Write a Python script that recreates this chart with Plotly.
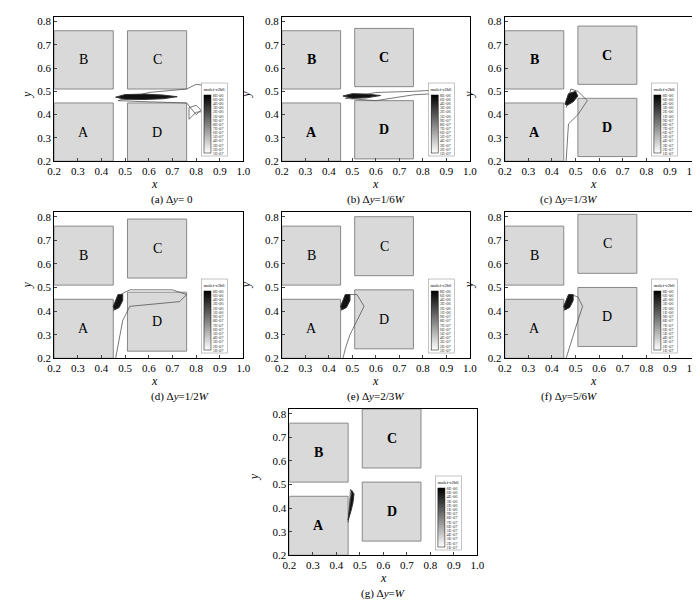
import plotly.graph_objects as go

# building footprints (x0, x1, y0, y1) before shift
bld_names = ["A", "B", "C", "D"]
bld_x0 = [0.2, 0.2, 0.51, 0.51]
bld_x1 = [0.45, 0.45, 0.76, 0.76]
bld_y0 = [0.2, 0.51, 0.51, 0.2]
bld_y1 = [0.45, 0.76, 0.76, 0.45]
shift = [0.0, 0.01, 0.02, 0.03, 0.04, 0.05, 0.06]   # C and D shifted up
captions = ["(a) Δ<i>y</i>= 0", "(b) Δ<i>y</i>=1/6<i>W</i>", "(c) Δ<i>y</i>=1/3<i>W</i>",
            "(d) Δ<i>y</i>=1/2<i>W</i>", "(e) Δ<i>y</i>=2/3<i>W</i>", "(f) Δ<i>y</i>=5/6<i>W</i>",
            "(g) Δ<i>y</i>=<i>W</i>"]
bold = [False, True, True, False, False, False, True]

# plume cores (dark)
core_x = [
    [0.46, 0.50, 0.58, 0.66, 0.72, 0.66, 0.58, 0.50, 0.46],
    [0.46, 0.50, 0.56, 0.62, 0.56, 0.50, 0.46],
    [0.455, 0.47, 0.50, 0.51, 0.49, 0.465, 0.455],
    [0.45, 0.47, 0.49, 0.49, 0.475, 0.455, 0.45],
    [0.45, 0.47, 0.49, 0.49, 0.475, 0.455, 0.45],
    [0.45, 0.47, 0.49, 0.49, 0.475, 0.455, 0.45],
    [0.45, 0.465, 0.475, 0.47, 0.46, 0.452, 0.45],
]
core_y = [
    [0.475, 0.486, 0.488, 0.484, 0.477, 0.468, 0.465, 0.466, 0.475],
    [0.48, 0.49, 0.488, 0.482, 0.472, 0.47, 0.48],
    [0.445, 0.49, 0.50, 0.48, 0.455, 0.44, 0.445],
    [0.42, 0.47, 0.47, 0.445, 0.415, 0.405, 0.42],
    [0.42, 0.47, 0.47, 0.445, 0.415, 0.405, 0.42],
    [0.42, 0.47, 0.47, 0.445, 0.415, 0.405, 0.42],
    [0.35, 0.475, 0.46, 0.42, 0.38, 0.35, 0.35],
]
# outer contour lines
outer_x = [
    [0.47, 0.6, 0.76, 0.8, 0.88, 0.9, 0.88, 0.8, 0.77, 0.77, 0.8, 0.82, 0.8, 0.76, 0.6, 0.47],
    [0.47, 0.6, 0.76, 0.85, 0.9, 0.85, 0.76, 0.6, 0.47],
    [0.46, 0.48, 0.51, 0.55, 0.51, 0.47, 0.46],
    [0.45, 0.48, 0.52, 0.70, 0.76, 0.73, 0.52, 0.49, 0.46],
    [0.45, 0.48, 0.52, 0.55, 0.52, 0.49, 0.47, 0.46],
    [0.45, 0.48, 0.51, 0.53, 0.51, 0.49, 0.47, 0.46],
    [0.45, 0.46, 0.47, 0.46, 0.45],
]
outer_y = [
    [0.46, 0.495, 0.51, 0.53, 0.52, 0.47, 0.42, 0.41, 0.38, 0.43, 0.44, 0.42, 0.4, 0.45, 0.455, 0.46],
    [0.47, 0.495, 0.50, 0.505, 0.5, 0.49, 0.485, 0.46, 0.47],
    [0.43, 0.51, 0.50, 0.46, 0.40, 0.36, 0.2],
    [0.40, 0.47, 0.49, 0.49, 0.47, 0.44, 0.42, 0.36, 0.2],
    [0.40, 0.47, 0.47, 0.42, 0.36, 0.3, 0.24, 0.2],
    [0.40, 0.47, 0.46, 0.42, 0.36, 0.3, 0.24, 0.2],
    [0.34, 0.48, 0.46, 0.40, 0.34],
]

cb_ticks = ["1E-07", "2E-07", "3E-07", "4E-07", "5E-07", "6E-07", "7E-07", "8E-07",
            "9E-07", "1E-06", "2E-06", "3E-06", "4E-06", "6E-06", "8E-06"]

# panel placement in paper coords: (x0, x1, y0, y1)
panels = [
    (0.057, 0.333, 0.745, 0.987), (0.389, 0.663, 0.745, 0.987), (0.714, 0.989, 0.745, 0.987),
    (0.057, 0.333, 0.415, 0.66), (0.389, 0.663, 0.415, 0.66), (0.714, 0.989, 0.415, 0.66),
    (0.4, 0.674, 0.085, 0.33),
]

fig = go.Figure()
font = "Liberation Serif"
layout = dict(width=700, height=604, margin=dict(l=0, r=0, t=0, b=0),
              paper_bgcolor="white", plot_bgcolor="white", showlegend=False,
              font=dict(family=font, size=12, color="black"))
shapes, annos = [], []
for i, (px0, px1, py0, py1) in enumerate(panels):
    n = "" if i == 0 else str(i + 1)
    xa, ya = "x" + n, "y" + n
    layout["xaxis" + n] = dict(domain=[px0, px1], range=[0.2, 1.0], anchor=ya, dtick=0.1,
                               tickformat=".1f", ticks="inside", ticklen=3, showgrid=False,
                               zeroline=False, showline=True, linecolor="black", mirror=True,
                               tickfont=dict(size=11))
    layout["yaxis" + n] = dict(domain=[py0, py1], range=[0.2, 0.82], anchor=xa, dtick=0.1,
                               tickformat=".1f", ticks="inside", ticklen=3, showgrid=False,
                               zeroline=False, showline=True, linecolor="black", mirror=True,
                               tickfont=dict(size=11))
    for b in range(4):
        dy = shift[i] if b >= 2 else 0.0
        shapes.append(dict(type="rect", xref=xa, yref=ya, x0=bld_x0[b], x1=bld_x1[b],
                           y0=bld_y0[b] + dy, y1=bld_y1[b] + dy, fillcolor="#d9d9d9",
                           line=dict(color="#888", width=1), layer="below"))
        lab = "<b>%s</b>" % bld_names[b] if bold[i] else bld_names[b]
        annos.append(dict(xref=xa, yref=ya, x=(bld_x0[b] + bld_x1[b]) / 2,
                          y=(bld_y0[b] + bld_y1[b]) / 2 + dy, text=lab, showarrow=False,
                          font=dict(size=14)))
    fig.add_trace(go.Scatter(x=outer_x[i], y=outer_y[i], xaxis=xa, yaxis=ya, mode="lines",
                             line=dict(color="#555", width=0.8), hoverinfo="skip"))
    fig.add_trace(go.Scatter(x=core_x[i], y=core_y[i], xaxis=xa, yaxis=ya, mode="lines",
                             fill="toself", fillcolor="#111", line=dict(color="#333", width=1),
                             hoverinfo="skip"))
    # colorbar legend
    w = px1 - px0
    h = py1 - py0
    cx = px0 + (0.88 - 0.2) / 0.8 * w
    cy = py0 + (0.38 - 0.2) / 0.62 * h
    ca = "coloraxis" + n
    layout[ca] = dict(colorscale=[[0, "white"], [1, "black"]], cmin=0, cmax=len(cb_ticks) - 1,
                      colorbar=dict(x=cx, y=cy, xanchor="center", yanchor="middle",
                                    len=0.5 * h, thickness=7,
                                    tickvals=list(range(len(cb_ticks))), ticktext=cb_ticks,
                                    tickfont=dict(size=4.5, family=font, color="#333"),
                                    ticklen=2,
                                    title=dict(text="molef-c2h6", font=dict(size=4.5), side="top"),
                                    outlinecolor="black", outlinewidth=0.5,
                                    bgcolor="white", bordercolor="#888", borderwidth=0.5,
                                    xpad=2, ypad=2))
    fig.add_trace(go.Scatter(x=[None], y=[None], xaxis=xa, yaxis=ya, mode="markers",
                             marker=dict(color=[0, len(cb_ticks) - 1], coloraxis=ca),
                             hoverinfo="skip"))
    annos.append(dict(xref="paper", yref="paper", x=(px0 + px1) / 2, y=py0 - 0.038,
                      text="<i>x</i>", showarrow=False, font=dict(size=12), yanchor="middle"))
    annos.append(dict(xref="paper", yref="paper", x=(px0 + px1) / 2, y=py0 - 0.064,
                      text=captions[i], showarrow=False, font=dict(size=11), yanchor="middle"))
    annos.append(dict(xref="paper", yref="paper", x=px0 - 0.052, y=(py0 + py1) / 2,
                      text="<i>y</i>", showarrow=False, textangle=-90, font=dict(size=12)))

layout["shapes"] = shapes
layout["annotations"] = annos
fig.update_layout(**layout)
fig.write_html("out.html")
